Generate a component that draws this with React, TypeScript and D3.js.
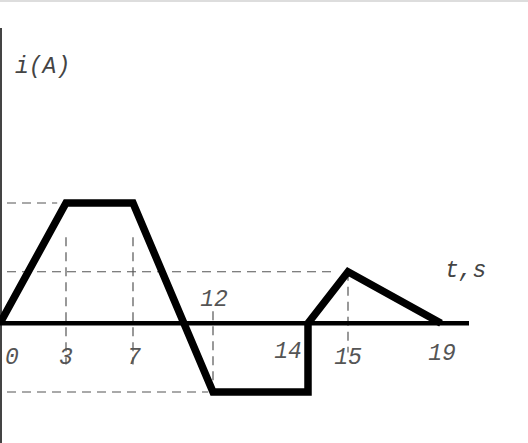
import React from "react";
import * as d3 from "d3";

// time instants marked on the t axis (the sketch is not drawn to scale)
const tTicks = [0, 3, 7, 12, 14, 15, 19];
// the waveform i(t)
const waveT = [0, 3, 7, 12, 14, 14, 15, 19];
const waveI = [0, 7, 7, -4, -4, 0, 3, 0];
// dashed guide lines: [t, iFrom, iTo] (vertical), [i, tTo] (horizontal)
const vGuides = [
    [3, 5, -2.4],
    [7, 5, -2.4],
    [12, 0.7, -4],
    [15, 3, -1.7],
];
const hGuides = [
    [7, 2.6],
    [3, 14.6],
    [-4, 11.7],
];

const W = 528;
const H = 443;

const x = d3.scaleLinear()
    .domain(tTicks)
    .range([0, 66, 133, 213, 308, 348, 441]);

const y = d3.scaleLinear().domain([-4, 7]).range([392, 203]);

const font = "'Liberation Mono', 'Courier New', monospace";

const App = () => {
    const line = d3.line<number>()
        .x((d, i) => x(waveT[i]))
        .y((d) => y(d))
        .curve(d3.curveLinear);

    // label offsets around each tick
    const labelPos = {
        0: [12, 364],
        3: [66, 364],
        7: [134, 364],
        12: [214, 306],
        14: [288, 358],
        15: [348, 364],
        19: [442, 360],
    };

    return (
        <svg width={W} height={H} style={{ position: "absolute", left: 0, top: 0, background: "#fff" }}>
            <line x1={0} x2={W} y1={1} y2={1} stroke="#ddd" strokeWidth={2} />
            {/* i axis */}
            <line x1={1} x2={1} y1={28} y2={H} stroke="#444" strokeWidth={2} />
            <text x={15} y={73} fontFamily={font} fontStyle="italic" fontSize={23} fill="#444">i(A)</text>

            {/* dashed guides */}
            {hGuides.map(([v, t], i) => (
                <line key={"h" + i} x1={7} x2={x(t)} y1={y(v)} y2={y(v)}
                    stroke="#555" strokeWidth={1.2} strokeDasharray="9 6" />
            ))}
            {vGuides.map(([t, a, b], i) => (
                <line key={"v" + i} x1={x(t)} x2={x(t)} y1={y(a)} y2={y(b)}
                    stroke="#555" strokeWidth={1.2} strokeDasharray="9 6" />
            ))}

            {/* t axis */}
            <line x1={0} x2={469} y1={y(0)} y2={y(0)} stroke="#000" strokeWidth={4.5} />
            <text x={445} y={277} fontFamily={font} fontStyle="italic" fontSize={23} fill="#444">t,s</text>

            {/* waveform */}
            <path d={line(waveI) || ""} fill="none" stroke="#000" strokeWidth={7.5}
                strokeLinejoin="miter" strokeMiterlimit={2} />

            {tTicks.map((t) => (
                <text key={t} x={labelPos[t][0]} y={labelPos[t][1]} textAnchor="middle"
                    fontFamily={font} fontStyle="italic" fontSize={23} fill="#555">
                    {t}
                </text>
            ))}
        </svg>
    );
};

export default App;
